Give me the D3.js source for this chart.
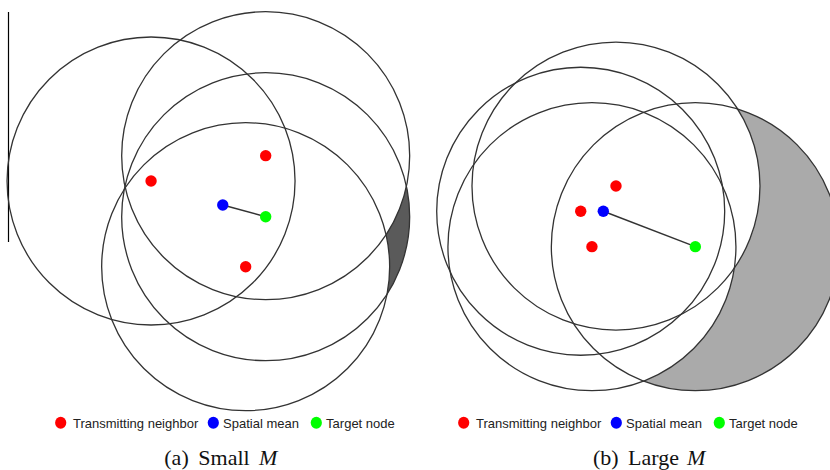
<!DOCTYPE html>
<html>
<head>
<meta charset="utf-8">
<script src="https://d3js.org/d3.v7.min.js"></script>
<style>
  html, body { margin: 0; padding: 0; background: #fff; }
  svg { display: block; }
</style>
</head>
<body>
<svg id="fig" width="830" height="470"></svg>
<script>
/**
Data (metres, transmission range = 100 m)
*/
var RANGE = 100;
var panelIds = ["a", "b"];
var panelLetters = ["(a)", "(b)"];
var panelWords = ["Small", "Large"];

var neighborsA = [[104.9, 125.7], [184.5, 108.1], [170.6, 185.2]];
var meanA = [154.7, 142.4];
var targetA = [184.5, 150.5];

var neighborsB = [[136.1, 129.2], [111.6, 146.7], [119.4, 171.3]];
var meanB = [127.3, 146.7];
var targetB = [191.2, 171.3];

var legendLabels = ["Transmitting neighbor", "Spatial mean", "Target node"];
var legendColors = ["#ff0000", "#0000ff", "#00ff00"];

var panels = [
  {id: "a", neighbors: neighborsA, mean: meanA, target: targetA, ox: 0, shade: "#5a5a5a", legendX: 0, capX: [164.3, 198.3, 259]},
  {id: "b", neighbors: neighborsB, mean: meanB, target: targetB, ox: 420, shade: "#aaaaaa", legendX: 403, capX: [593, 628, 687]}
];

var svg = d3.select("#fig");
var defs = svg.append("defs");

/**
Odd little rule line at the left edge
*/
svg.append("line")
  .attr("x1", 8.5).attr("x2", 8.5)
  .attr("y1", 12).attr("y2", 242)
  .style("stroke", "#000")
  .style("stroke-width", "1.2px");

panels.forEach(function(p, i){
  var x = d3.scaleLinear().domain([0, 288]).range([p.ox, p.ox + 414.72]);
  var y = d3.scaleLinear().domain([0, 288]).range([0, 414.72]);
  var r = x(RANGE) - x(0);
  var g = svg.append("g");

  // mask: target area not covered by any neighbour
  var mask = defs.append("mask").attr("id", "uncov" + p.id);
  mask.append("rect")
    .attr("x", 0).attr("y", 0).attr("width", 830).attr("height", 470)
    .style("fill", "#fff");
  mask.selectAll("circle").data(p.neighbors).enter().append("circle")
    .attr("cx", function(d){ return x(d[0]); })
    .attr("cy", function(d){ return y(d[1]); })
    .attr("r", r)
    .style("fill", "#000");

  g.append("circle")
    .attr("cx", x(p.target[0]))
    .attr("cy", y(p.target[1]))
    .attr("r", r)
    .attr("mask", "url(#uncov" + p.id + ")")
    .style("fill", p.shade);

  // range circles
  var all = p.neighbors.concat([p.target]);
  g.selectAll("circle.range").data(all).enter().append("circle")
    .attr("class", "range")
    .attr("cx", function(d){ return x(d[0]); })
    .attr("cy", function(d){ return y(d[1]); })
    .attr("r", r)
    .style("fill", "none")
    .style("stroke", "#333")
    .style("stroke-width", "1.3px");

  // mean -> target
  g.append("line")
    .attr("x1", x(p.mean[0])).attr("y1", y(p.mean[1]))
    .attr("x2", x(p.target[0])).attr("y2", y(p.target[1]))
    .style("stroke", "#333")
    .style("stroke-width", "1.5px");

  var pts = p.neighbors.map(function(d){ return {p: d, c: legendColors[0]}; })
    .concat([{p: p.mean, c: legendColors[1]}, {p: p.target, c: legendColors[2]}]);
  g.selectAll("circle.node").data(pts).enter().append("circle")
    .attr("class", "node")
    .attr("cx", function(d){ return x(d.p[0]); })
    .attr("cy", function(d){ return y(d.p[1]); })
    .attr("r", 5.7)
    .style("fill", function(d){ return d.c; });

  // legend
  var dotX = [60.7, 213.3, 316.3];
  var leg = g.append("g").attr("transform", "translate(" + p.legendX + ",0)");
  legendLabels.forEach(function(lab, k){
    leg.append("ellipse")
      .attr("cx", dotX[k]).attr("cy", 422.7)
      .attr("rx", 5.6).attr("ry", 6)
      .style("fill", legendColors[k]);
    leg.append("text")
      .attr("x", dotX[k] + (k == 0 ? 12.3 : 9.8))
      .attr("y", 427.5)
      .style("font-family", "'Liberation Sans', Arial, sans-serif")
      .style("font-size", "13px")
      .style("fill", "#222")
      .text(lab);
  });

  // caption
  var cap = g.append("text")
    .attr("y", 465)
    .style("font-family", "'Liberation Serif', 'Times New Roman', serif")
    .style("font-size", "22px")
    .style("fill", "#111");
  cap.append("tspan").attr("x", p.capX[0]).text(panelLetters[i]);
  cap.append("tspan").attr("x", p.capX[1]).text(panelWords[i]);
  cap.append("tspan").attr("x", p.capX[2]).style("font-style", "italic").text("M");
});
</script>
</body>
</html>
